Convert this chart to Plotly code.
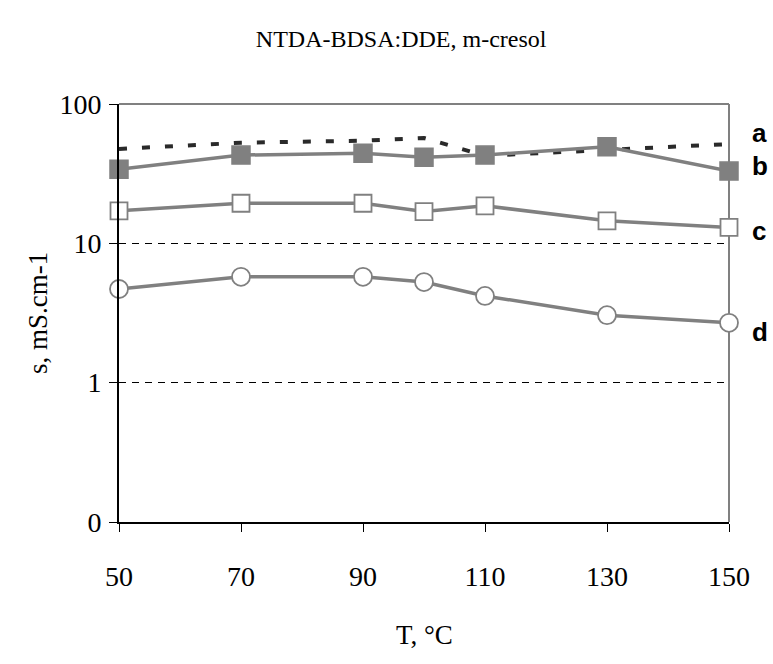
import plotly.graph_objects as go

# Data
temps = [50, 70, 90, 100, 110, 130, 150]
series_a = [47.6, 52.7, 54.5, 57.0, 42.5, 47.0, 51.6]
series_b = [34.0, 43.0, 44.3, 41.4, 43.0, 49.4, 33.0]
series_c = [17.1, 19.4, 19.4, 16.9, 18.6, 14.5, 13.0]
series_d = [4.70, 5.75, 5.75, 5.27, 4.19, 3.05, 2.69]
x_ticks = [50, 70, 90, 110, 130, 150]
y_tickvals = [0.1, 1, 10, 100]
y_ticktext = ["0", "1", "10", "100"]
labels = ["a", "b", "c", "d"]

GRAY = "#808080"
serif = "Liberation Serif, Times New Roman, serif"

fig = go.Figure()

fig.add_trace(go.Scatter(x=temps, y=series_a, mode="lines",
                         line=dict(color="#2a2a2a", width=4, dash="8px,15px"),
                         showlegend=False, cliponaxis=False))
fig.add_trace(go.Scatter(x=temps, y=series_b, mode="lines+markers",
                         line=dict(color=GRAY, width=3.5),
                         marker=dict(symbol="square", size=18, color=GRAY,
                                     line=dict(color=GRAY, width=1.5)),
                         showlegend=False, cliponaxis=False))
fig.add_trace(go.Scatter(x=temps, y=series_c, mode="lines+markers",
                         line=dict(color=GRAY, width=3.5),
                         marker=dict(symbol="square", size=17, color="white",
                                     line=dict(color=GRAY, width=1.8)),
                         showlegend=False, cliponaxis=False))
fig.add_trace(go.Scatter(x=temps, y=series_d, mode="lines+markers",
                         line=dict(color=GRAY, width=3.5),
                         marker=dict(symbol="circle", size=18, color="white",
                                     line=dict(color=GRAY, width=1.8)),
                         showlegend=False, cliponaxis=False))

# frame top/right in gray
fig.add_shape(type="line", xref="paper", yref="paper", x0=0, x1=1, y0=1, y1=1,
              line=dict(color=GRAY, width=2), layer="above")
fig.add_shape(type="line", xref="paper", yref="paper", x0=1, x1=1, y0=0, y1=1,
              line=dict(color=GRAY, width=2), layer="below")

label_y = [0.931, 0.852, 0.696, 0.455]
for t, yy in zip(labels, label_y):
    fig.add_annotation(text=t, xref="paper", yref="paper", x=1, y=yy,
                       xanchor="left", yanchor="middle", xshift=21, showarrow=False,
                       font=dict(family="Liberation Sans, Arial", size=26,
                                 color="black", weight="bold"))

fig.add_annotation(text="s, mS.cm-1", xref="paper", yref="paper", x=0, y=0.5,
                   xshift=-81, textangle=-90, showarrow=False, xanchor="center",
                   yanchor="middle", font=dict(family=serif, size=27, color="black"))
fig.add_annotation(text="T, °C", xref="paper", yref="paper", x=0.5, y=0,
                   yshift=-113, showarrow=False, xanchor="center", yanchor="middle",
                   font=dict(family=serif, size=27, color="black"))

fig.update_layout(
    width=773, height=664,
    margin=dict(l=119, r=44, t=104, b=142),
    paper_bgcolor="white", plot_bgcolor="white",
    title=dict(text="NTDA-BDSA:DDE, m-cresol", x=0.519, xanchor="center",
               y=1 - 39 / 664, yanchor="middle",
               font=dict(family=serif, size=24, color="black")),
    showlegend=False,
)
fig.update_xaxes(range=[50, 150], tickvals=x_ticks, showgrid=False, zeroline=False,
                 showline=True, linecolor="black", linewidth=2,
                 ticks="outside", ticklen=8, tickcolor="black", tickwidth=1,
                 ticklabelstandoff=20,
                 tickfont=dict(family=serif, size=28, color="black"))
fig.update_yaxes(type="log", range=[-1, 2], tickvals=y_tickvals, ticktext=y_ticktext,
                 showgrid=True, gridcolor="black", gridwidth=1, griddash="7px,6px",
                 zeroline=False, showline=True, linecolor="black", linewidth=2,
                 ticks="outside", ticklen=8, tickcolor="black", tickwidth=1,
                 ticklabelstandoff=2,
                 tickfont=dict(family=serif, size=28, color="black"))

fig.write_html("out.html")
